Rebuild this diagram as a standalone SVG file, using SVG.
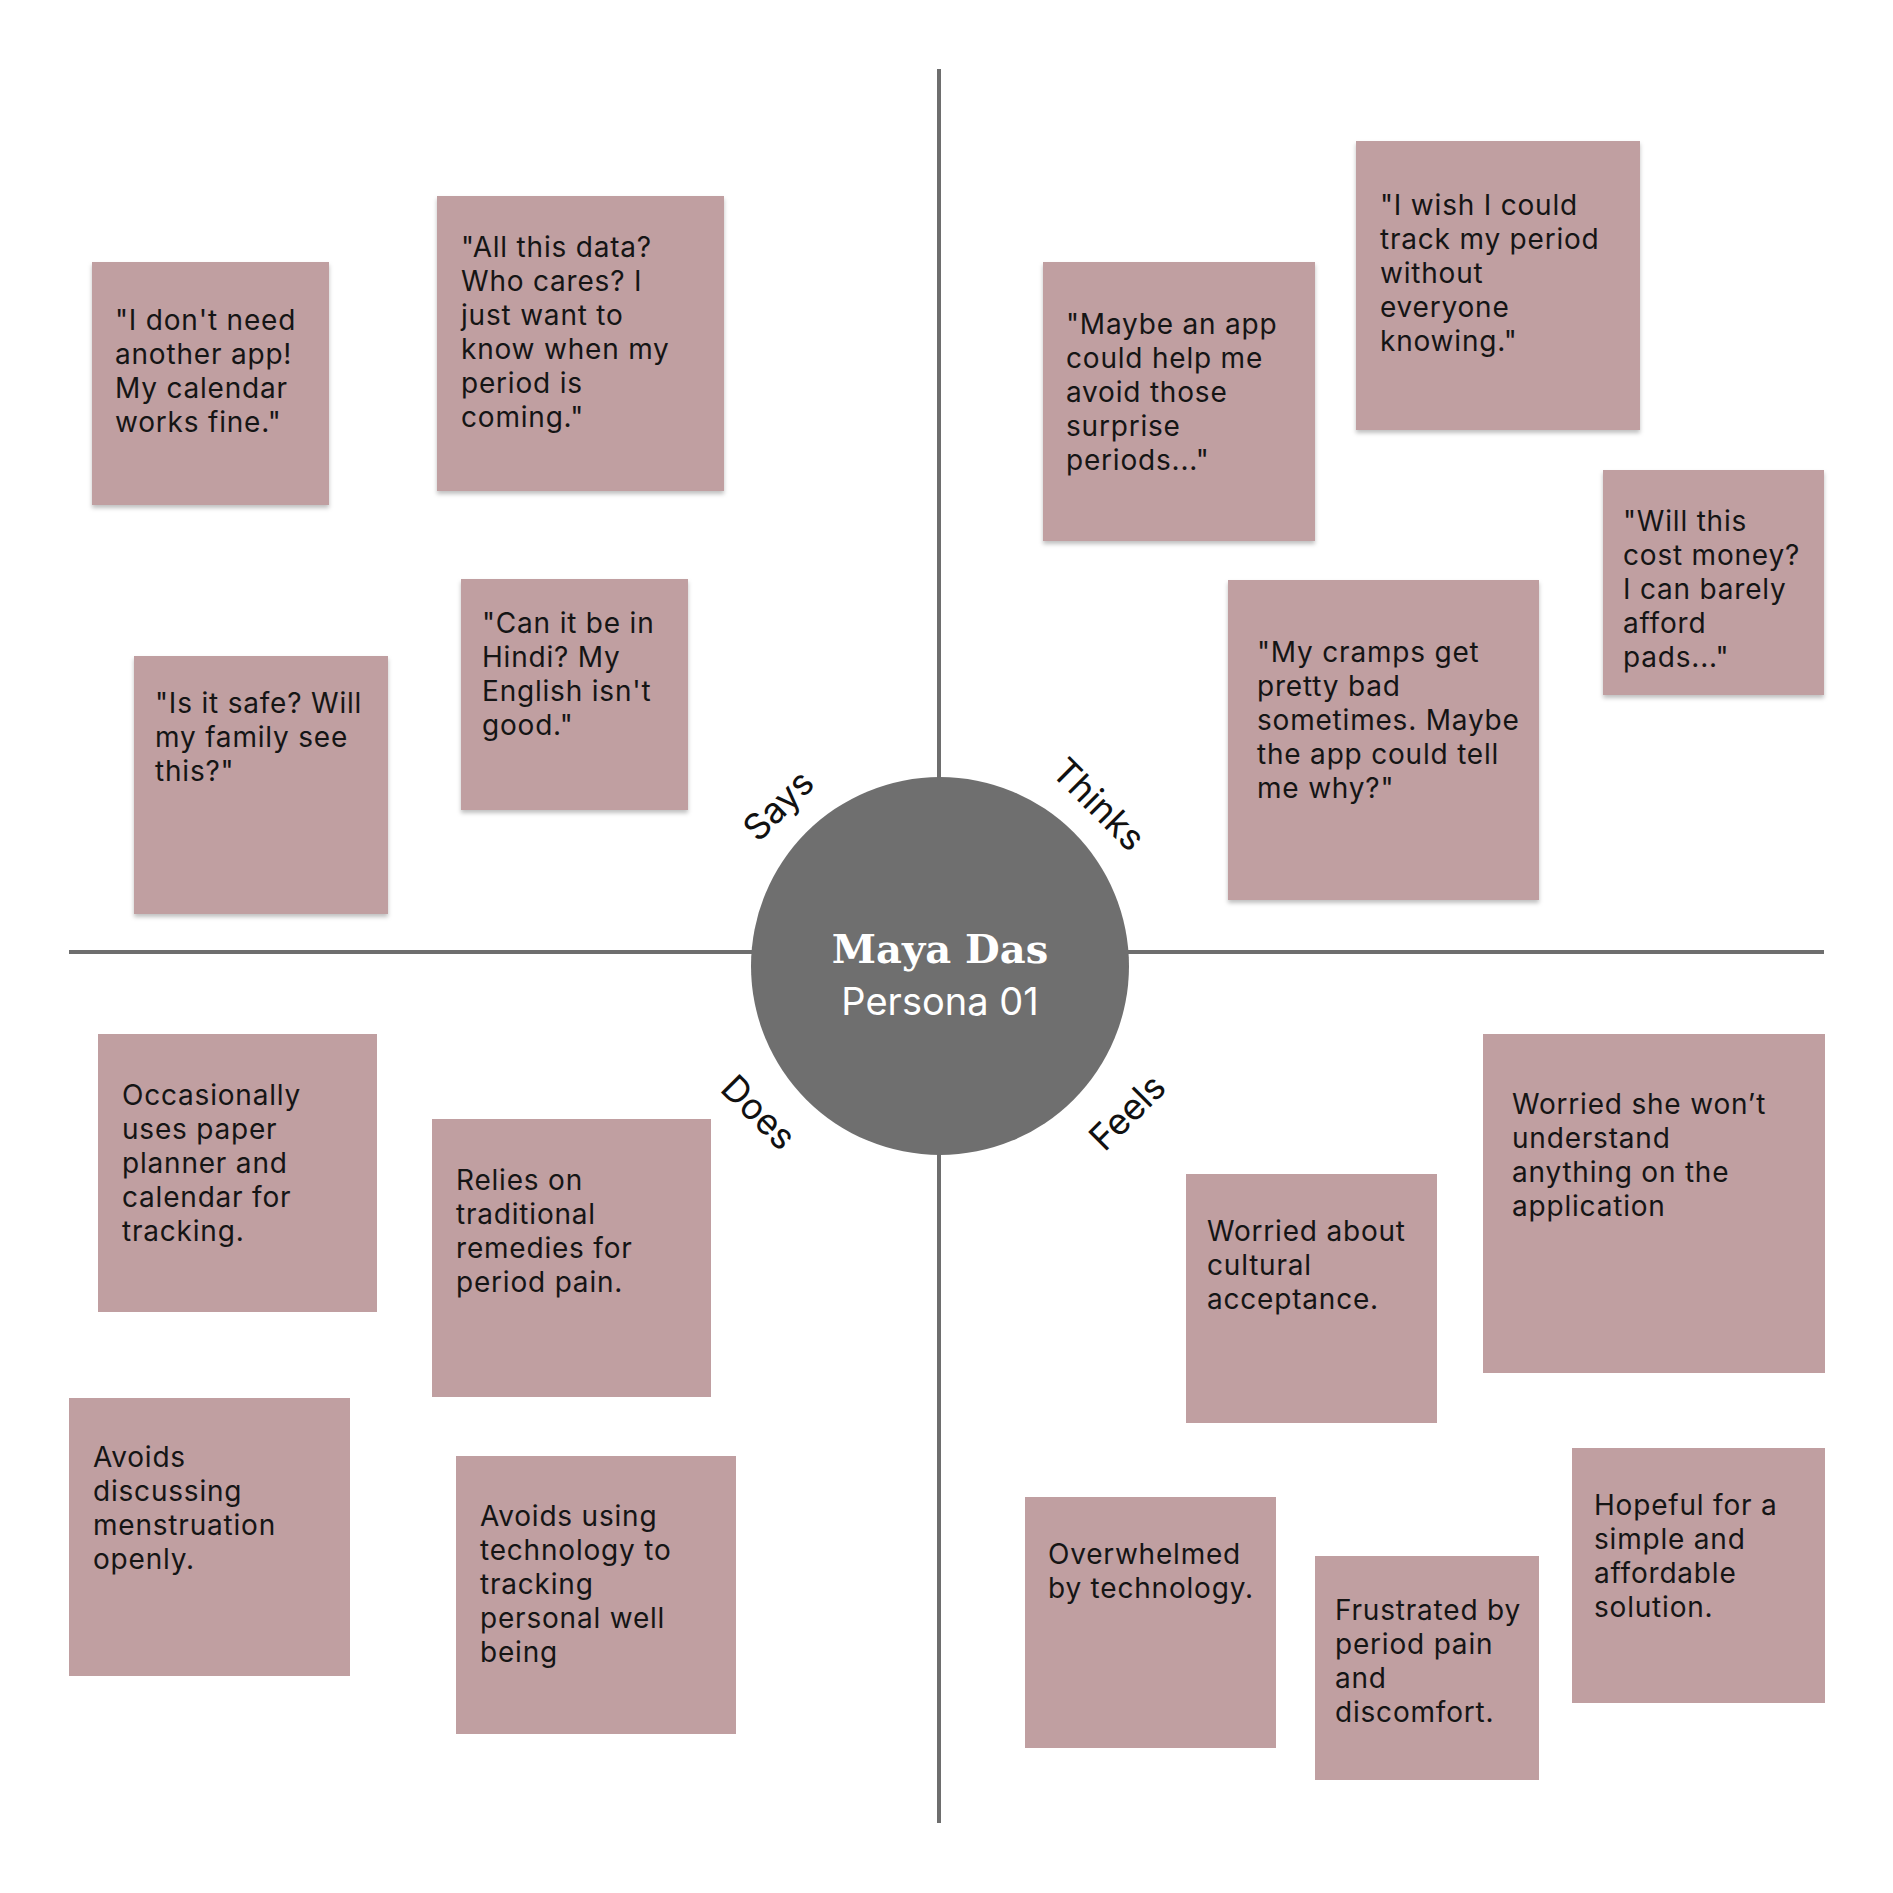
<svg xmlns="http://www.w3.org/2000/svg" width="1893" height="1893" viewBox="0 0 1893 1893">
<style>
.note{fill:#c09fa1}
.sh{filter:url(#shadow)}
.t{font-family:Inter,"Noto Sans","Liberation Sans",sans-serif;font-size:28px;letter-spacing:0.8px;fill:#151515}
.axis{stroke:#6e6e6e;stroke-width:4;fill:none}
.lab{font-family:Inter,"Noto Sans","Liberation Sans",sans-serif;font-size:36px;fill:#111;text-anchor:middle;dominant-baseline:central}
</style>
<defs>
<filter id="shadow" x="-5%" y="-5%" width="110%" height="115%">
<feDropShadow dx="0" dy="3" stdDeviation="2" flood-color="#000" flood-opacity="0.25"/>
</filter>
</defs>
<rect width="1893" height="1893" fill="#fff"/>
<g id="connectors">
<line class="axis" x1="939" y1="69" x2="939" y2="1823"/>
<line class="axis" x1="69" y1="952" x2="1824" y2="952"/>
</g>
<g id="center">
<circle cx="940" cy="966" r="189" fill="#6f6f6f"/>
<text x="940" y="963" text-anchor="middle" font-family="'DejaVu Serif',serif" font-weight="bold" font-size="40" fill="#fff">Maya Das</text>
<text x="940" y="1015" text-anchor="middle" font-family="Inter,'Noto Sans',sans-serif" font-size="38" fill="#fff">Persona 01</text>
</g>
<g id="labels">
<text class="lab" transform="translate(778,805) rotate(-45)">Says</text>
<text class="lab" transform="translate(1099,804) rotate(45)">Thinks</text>
<text class="lab" transform="translate(759,1112) rotate(45)">Does</text>
<text class="lab" transform="translate(1127,1112) rotate(-45)">Feels</text>
</g>
<g id="says-1"><rect class="note sh" x="92" y="262" width="237" height="243"/>
<text class="t" x="115" y="330"><tspan x="115">"I don't need</tspan><tspan x="115" dy="34">another app!</tspan><tspan x="115" dy="34">My calendar</tspan><tspan x="115" dy="34">works fine."</tspan></text></g>
<g id="says-2"><rect class="note sh" x="437" y="196" width="287" height="295"/>
<text class="t" x="461" y="257"><tspan x="461">"All this data?</tspan><tspan x="461" dy="34">Who cares? I</tspan><tspan x="461" dy="34">just want to</tspan><tspan x="461" dy="34">know when my</tspan><tspan x="461" dy="34">period is</tspan><tspan x="461" dy="34">coming."</tspan></text></g>
<g id="says-3"><rect class="note sh" x="134" y="656" width="254" height="258"/>
<text class="t" x="155" y="713"><tspan x="155">"Is it safe? Will</tspan><tspan x="155" dy="34">my family see</tspan><tspan x="155" dy="34">this?"</tspan></text></g>
<g id="says-4"><rect class="note sh" x="461" y="579" width="227" height="231"/>
<text class="t" x="482" y="633"><tspan x="482">"Can it be in</tspan><tspan x="482" dy="34">Hindi? My</tspan><tspan x="482" dy="34">English isn't</tspan><tspan x="482" dy="34">good."</tspan></text></g>
<g id="thinks-1"><rect class="note sh" x="1043" y="262" width="272" height="279"/>
<text class="t" x="1066" y="334"><tspan x="1066">"Maybe an app</tspan><tspan x="1066" dy="34">could help me</tspan><tspan x="1066" dy="34">avoid those</tspan><tspan x="1066" dy="34">surprise</tspan><tspan x="1066" dy="34">periods..."</tspan></text></g>
<g id="thinks-2"><rect class="note sh" x="1356" y="141" width="284" height="289"/>
<text class="t" x="1380" y="215"><tspan x="1380">"I wish I could</tspan><tspan x="1380" dy="34">track my period</tspan><tspan x="1380" dy="34">without</tspan><tspan x="1380" dy="34">everyone</tspan><tspan x="1380" dy="34">knowing."</tspan></text></g>
<g id="thinks-3"><rect class="note sh" x="1603" y="470" width="221" height="225"/>
<text class="t" x="1623" y="531"><tspan x="1623">"Will this</tspan><tspan x="1623" dy="34">cost money?</tspan><tspan x="1623" dy="34">I can barely</tspan><tspan x="1623" dy="34">afford</tspan><tspan x="1623" dy="34">pads..."</tspan></text></g>
<g id="thinks-4"><rect class="note sh" x="1228" y="580" width="311" height="320"/>
<text class="t" x="1257" y="662"><tspan x="1257">"My cramps get</tspan><tspan x="1257" dy="34">pretty bad</tspan><tspan x="1257" dy="34">sometimes. Maybe</tspan><tspan x="1257" dy="34">the app could tell</tspan><tspan x="1257" dy="34">me why?"</tspan></text></g>
<g id="does-1"><rect class="note" x="98" y="1034" width="279" height="278"/>
<text class="t" x="122" y="1105"><tspan x="122">Occasionally</tspan><tspan x="122" dy="34">uses paper</tspan><tspan x="122" dy="34">planner and</tspan><tspan x="122" dy="34">calendar for</tspan><tspan x="122" dy="34">tracking.</tspan></text></g>
<g id="does-2"><rect class="note" x="432" y="1119" width="279" height="278"/>
<text class="t" x="456" y="1190"><tspan x="456">Relies on</tspan><tspan x="456" dy="34">traditional</tspan><tspan x="456" dy="34">remedies for</tspan><tspan x="456" dy="34">period pain.</tspan></text></g>
<g id="does-3"><rect class="note" x="69" y="1398" width="281" height="278"/>
<text class="t" x="93" y="1467"><tspan x="93">Avoids</tspan><tspan x="93" dy="34">discussing</tspan><tspan x="93" dy="34">menstruation</tspan><tspan x="93" dy="34">openly.</tspan></text></g>
<g id="does-4"><rect class="note" x="456" y="1456" width="280" height="278"/>
<text class="t" x="480" y="1526"><tspan x="480">Avoids using</tspan><tspan x="480" dy="34">technology to</tspan><tspan x="480" dy="34">tracking</tspan><tspan x="480" dy="34">personal well</tspan><tspan x="480" dy="34">being</tspan></text></g>
<g id="feels-1"><rect class="note" x="1186" y="1174" width="251" height="249"/>
<text class="t" x="1207" y="1241"><tspan x="1207">Worried about</tspan><tspan x="1207" dy="34">cultural</tspan><tspan x="1207" dy="34">acceptance.</tspan></text></g>
<g id="feels-2"><rect class="note" x="1483" y="1034" width="342" height="339"/>
<text class="t" x="1512" y="1114"><tspan x="1512">Worried she won’t</tspan><tspan x="1512" dy="34">understand</tspan><tspan x="1512" dy="34">anything on the</tspan><tspan x="1512" dy="34">application</tspan></text></g>
<g id="feels-3"><rect class="note" x="1025" y="1497" width="251" height="251"/>
<text class="t" x="1048" y="1564"><tspan x="1048">Overwhelmed</tspan><tspan x="1048" dy="34">by technology.</tspan></text></g>
<g id="feels-4"><rect class="note" x="1315" y="1556" width="224" height="224"/>
<text class="t" x="1335" y="1620"><tspan x="1335">Frustrated by</tspan><tspan x="1335" dy="34">period pain</tspan><tspan x="1335" dy="34">and</tspan><tspan x="1335" dy="34">discomfort.</tspan></text></g>
<g id="feels-5"><rect class="note" x="1572" y="1448" width="253" height="255"/>
<text class="t" x="1594" y="1515"><tspan x="1594">Hopeful for a</tspan><tspan x="1594" dy="34">simple and</tspan><tspan x="1594" dy="34">affordable</tspan><tspan x="1594" dy="34">solution.</tspan></text></g>
</svg>
